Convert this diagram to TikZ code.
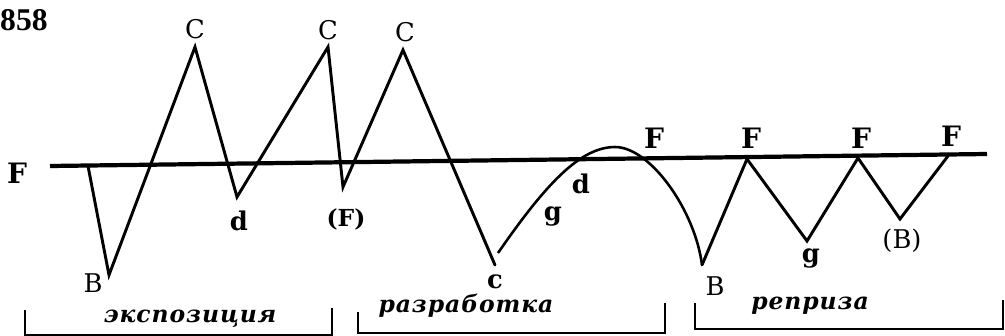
\documentclass[tikz,border=0pt]{standalone}
\usepackage{fontspec}
\setmainfont{DejaVu Serif}
\newfontfamily\numfont{Liberation Serif}
\newfontfamily\rufont{DejaVu Serif}[LetterSpace=4]
\begin{document}
\begin{tikzpicture}[x=0.03cm,y=-0.03cm,
  zz/.style={line width=2.5pt, line join=miter, line cap=round},
  axis/.style={line width=3.6pt},
  curv/.style={line width=2.2pt},
  brk/.style={line width=2.5pt, line join=miter},
  lab/.style={inner sep=0pt, anchor=base, font=\fontsize{22}{22}\selectfont},
  blab/.style={inner sep=0pt, anchor=base, font=\fontsize{24}{24}\selectfont\bfseries},
  slab/.style={inner sep=0pt, anchor=base, font=\fontsize{22}{22}\selectfont\bfseries},
  rulab/.style={inner sep=0pt, anchor=base, font=\fontsize{20}{20}\selectfont\rufont\bfseries\itshape}]
\useasboundingbox (0,0) rectangle (1005,336);
% axis
\coordinate (L1) at (50,166);
\coordinate (L2) at (987,154);
\draw[axis] (L1) -- (L2);
% points
\coordinate (p0) at (88,166);
\coordinate (B1) at (109,275);
\coordinate (C1) at (195,47);
\coordinate (d1) at (237,197);
\coordinate (C2) at (328,47);
\coordinate (F1) at (343,187);
\coordinate (C3) at (403,50);
\coordinate (c1) at (495,265);
\coordinate (s) at (498,253);
\coordinate (P) at (615,147);
\coordinate (B2) at (702,265);
\coordinate (F2) at (747,159);
\coordinate (g2) at (807,241);
\coordinate (F3) at (858,158);
\coordinate (B3) at (900,219);
\coordinate (F4) at (948,156);
\draw[zz] (p0) -- (B1) -- (C1) -- (d1) -- (C2) -- (F1) -- (C3) -- (c1);
\draw[curv] (s) .. controls (545,185) and (580,147) .. (P)
  .. controls (650,147) and (695,210) .. (B2);
\draw[zz] (B2) -- (F2) -- (g2) -- (F3) -- (B3) -- (F4);
% labels
\node[inner sep=0pt, anchor=base west, font=\fontsize{27}{27}\selectfont\numfont\bfseries] (num) at (0,30) {858};
\node[blab] (lF) at (17,183) {F};
\node[lab] (lB1) at (93,292) {B};
\node[lab] (lC1) at (195,38) {C};
\node[slab] (ld1) at (239,230) {d};
\node[lab] (lC2) at (328,39) {C};
\node[lab] (lC3) at (405,42) {C};
\node[slab, font=\fontsize{20}{20}\selectfont\bfseries] (lF1) at (346,226) {(F)};
\node[slab] (lc) at (495,288) {c};
\node[slab] (lg1) at (553,220) {g};
\node[slab] (ld2) at (581,193) {d};
\node[blab] (lFp) at (654,148) {F};
\node[lab] (lB2) at (715,295) {B};
\node[blab] (lF2) at (751,148) {F};
\node[slab] (lg2) at (811,262) {g};
\node[blab] (lF3) at (861,148) {F};
\node[lab] (lB3) at (902,248) {(B)};
\node[blab] (lF4) at (951,146) {F};
% brackets
\coordinate (a1) at (25,310); \coordinate (a2) at (25,335); \coordinate (a3) at (332,335); \coordinate (a4) at (332,308);
\draw[brk] (a1) -- (a2) -- (a3) -- (a4);
\coordinate (b1) at (358,312); \coordinate (b2) at (358,333); \coordinate (b3) at (665,333); \coordinate (b4) at (665,303);
\draw[brk] (b1) -- (b2) -- (b3) -- (b4);
\coordinate (e1) at (695,303); \coordinate (e2) at (695,329); \coordinate (e3) at (1003,329); \coordinate (e4) at (1003,300);
\draw[brk] (e1) -- (e2) -- (e3) -- (e4);
\node[rulab] (t1) at (190,322) {экспозиция};
\node[rulab] (t2) at (466,312) {разработка};
\node[rulab] (t3) at (810,309) {реприза};
\end{tikzpicture}
\end{document}
